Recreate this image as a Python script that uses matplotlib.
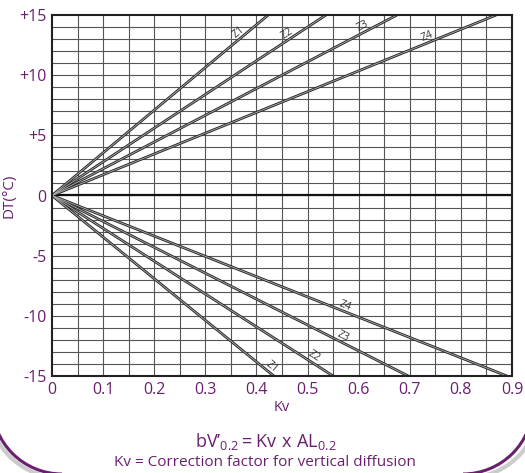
import numpy as np
import matplotlib
matplotlib.use("Agg")
import matplotlib.pyplot as plt
from matplotlib.patches import Arc
from matplotlib.transforms import offset_copy

# ---------------- data ----------------
zones = ["Z1", "Z2", "Z3", "Z4"]
kv_at_plus15 = [0.423, 0.536, 0.675, 0.869]    # Kv where heating line reaches +15
kv_at_minus15 = [0.434, 0.550, 0.697, 0.890]   # Kv where cooling line reaches -15
dt_max = 15
dt_min = -15
x_ticks = [0, 0.1, 0.2, 0.3, 0.4, 0.5, 0.6, 0.7, 0.8, 0.9]
x_tick_labels = ["0", "0.1", "0.2", "0.3", "0.4", "0.5", "0.6", "0.7", "0.8", "0.9"]
y_ticks = [-15, -10, -5, 0, 5, 10, 15]
y_tick_labels = ["-15", "-10", "-5", "0", "+5", "+10", "+15"]
label_frac_top = [0.88, 0.87, 0.91, 0.85]
label_frac_bot = [0.975, 0.92, 0.81, 0.64]

PURPLE = "#6a1f6e"
FONT = "Open Sans"
plt.rcParams["font.family"] = [FONT, "DejaVu Sans"]
plt.rcParams["mathtext.fontset"] = "custom"
plt.rcParams["mathtext.rm"] = FONT

W, H = 525, 473
fig = plt.figure(figsize=(W / 100, H / 100), dpi=100)

# overlay for frame corners (pixel coords, y down)
bg = fig.add_axes([0, 0, 1, 1], zorder=-1)
bg.set_xlim(0, W)
bg.set_ylim(H, 0)
bg.axis("off")
R = 140
for cx, t1, t2 in ((62, 90, 180), (W - 62, 0, 90)):
    bg.add_patch(Arc((cx + (0 if cx < W / 2 else 3), 404), R + 8, R + 8, theta1=t1, theta2=t2,
                     color="#cccccc", lw=3))
    bg.add_patch(Arc((cx, 404), R, R, theta1=t1, theta2=t2, color=PURPLE, lw=2.2))

ax = fig.add_axes([52 / W, 1 - 376 / H, (512 - 52) / W, (376 - 15) / H])
ax.set_xlim(0, 0.9)
ax.set_ylim(-15, 15)

# grid
for xv in np.arange(0.05, 0.9, 0.05):
    ax.axvline(xv, color="#555555", lw=0.8, zorder=1)
for yv in range(-14, 15):
    ax.axhline(yv, color="#555555", lw=0.8, zorder=1)
ax.axhline(0, color="#111111", lw=1.6, zorder=2)

# lines
for kt, kb in zip(kv_at_plus15, kv_at_minus15):
    for ke, de in ((kt, dt_max), (kb, dt_min)):
        ax.plot([0, ke], [0, de], color="#2a2a2a", lw=2.0, zorder=3,
                solid_capstyle="butt")
        ax.plot([0, ke], [0, de], color="#b0b0b0", lw=0.6, zorder=4,
                solid_capstyle="butt")

fig.canvas.draw()

def angle(ke, de):
    p0 = ax.transData.transform((0, 0))
    p1 = ax.transData.transform((ke, de))
    return np.degrees(np.arctan2(p1[1] - p0[1], p1[0] - p0[0]))

def put_label(z, ke, de, f):
    a = angle(ke, de)
    r = np.radians(a)
    off = 6
    tr = offset_copy(ax.transData, fig=fig, x=-np.sin(r) * off, y=np.cos(r) * off, units="dots")
    ax.text(f * ke, f * de, z, transform=tr, rotation=a, rotation_mode="anchor",
            ha="center", va="center", fontsize=7.5, color="#333333", zorder=5)

for z, kt, f in zip(zones, kv_at_plus15, label_frac_top):
    put_label(z, kt, dt_max, f)
for z, kb, f in zip(zones, kv_at_minus15, label_frac_bot):
    put_label(z, kb, dt_min, f)

for s in ax.spines.values():
    s.set_color("#222222")
    s.set_linewidth(1.5)
    s.set_zorder(6)

ax.set_xticks(x_ticks)
ax.set_xticklabels(x_tick_labels)
ax.set_yticks(y_ticks)
ax.set_yticklabels(y_tick_labels)
ax.tick_params(length=0, labelsize=11.5, labelcolor=PURPLE, pad=4)
ax.set_xlabel("Kv", fontsize=10.5, color=PURPLE, labelpad=2)
ax.set_ylabel("DT(°C)", fontsize=11, color=PURPLE, labelpad=2)

fig.text(266 / W, 1 - 441 / H, r"$\mathrm{bV’_{0.2} = Kv\ x\ AL_{0.2}}$",
         ha="center", va="center", fontsize=13, color=PURPLE)
fig.text(265 / W, 1 - 462 / H, "Kv = Correction factor for vertical diffusion",
         ha="center", va="center", fontsize=11, color=PURPLE)

fig.savefig("out.png", dpi=100)
